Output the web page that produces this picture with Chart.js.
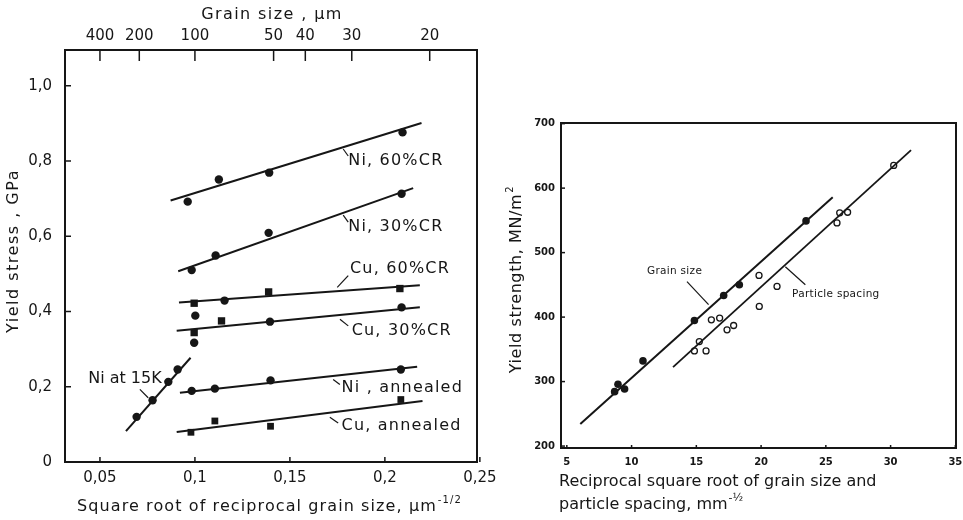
<!DOCTYPE html>
<html>
<head>
<meta charset="utf-8">
<script src="https://cdn.jsdelivr.net/npm/chart.js@4.4.0/dist/chart.umd.min.js"></script>
<style>
  body { margin: 0; background: #fff; width: 963px; height: 520px; overflow: hidden; position: relative; }
  .box { position: absolute; top: 0; }
  #leftBox { left: 0; width: 500px; height: 520px; }
  #rightBox { left: 500px; width: 463px; height: 520px; }
</style>
</head>
<body>
<div class="box" id="leftBox"><canvas id="hallPetchChart" width="500" height="520"></canvas></div>
<div class="box" id="rightBox"><canvas id="spacingChart" width="463" height="520"></canvas></div>
<script>
// ---- left figure: yield stress (GPa) vs d^-1/2 (um^-1/2) ----
const niCr60X = [0.0962, 0.1126, 0.1391, 0.2093];
const niCr60Y = [0.692, 0.751, 0.769, 0.876];
const niCr60Fit = [[0.0872, 0.695], [0.2193, 0.901]];

const niCr30X = [0.0983, 0.1109, 0.1388, 0.2088];
const niCr30Y = [0.510, 0.549, 0.609, 0.713];
const niCr30Fit = [[0.0912, 0.507], [0.2149, 0.728]];

const cuCr60X = [0.0996, 0.1156, 0.1388, 0.2079];
const cuCr60Y = [0.422, 0.429, 0.452, 0.461];
const cuCr60Shape = ['rect', 'circle', 'rect', 'rect'];
const cuCr60Fit = [[0.0916, 0.424], [0.2184, 0.470]];

const cuCr30X = [0.1002, 0.1140, 0.1395, 0.2088, 0.0996, 0.0996];
const cuCr30Y = [0.389, 0.375, 0.373, 0.411, 0.344, 0.317];
const cuCr30Shape = ['circle', 'rect', 'circle', 'circle', 'rect', 'circle'];
const cuCr30Fit = [[0.0904, 0.349], [0.2184, 0.411]];

const ni15KX = [0.0693, 0.0777, 0.0860, 0.0909];
const ni15KY = [0.120, 0.164, 0.213, 0.246];
const ni15KFit = [[0.0637, 0.082], [0.0977, 0.277]];

const niAnnX = [0.0983, 0.1105, 0.1398, 0.2084];
const niAnnY = [0.189, 0.195, 0.217, 0.246];
const niAnnFit = [[0.0921, 0.184], [0.2170, 0.253]];

const cuAnnX = [0.0979, 0.1105, 0.1398, 0.2084];
const cuAnnY = [0.079, 0.109, 0.095, 0.166];
const cuAnnFit = [[0.0904, 0.080], [0.2198, 0.162]];

const leftXTicks = [0.05, 0.1, 0.15, 0.2, 0.25];
const leftXLabels = ['0,05', '0,1', '0,15', '0,2', '0,25'];
const leftYTicks = [0, 0.2, 0.4, 0.6, 0.8, 1.0];
const leftYLabels = ['0', '0,2', '0,4', '0,6', '0,8', '1,0'];
const grainSizeTicks = [400, 200, 100, 50, 40, 30, 20];   // um, top axis

// ---- right figure: yield strength (MN/m2) vs reciprocal sqrt (mm^-1/2) ----
const grainX = [8.69, 8.95, 9.46, 10.88, 14.85, 17.11, 18.32, 23.47];
const grainY = [284.4, 295.9, 288.6, 332.1, 394.8, 433.6, 450.2, 549.2];
const grainFit = [[6.04, 234.2], [25.53, 585.9]];

const spacingX = [14.85, 15.23, 15.75, 16.16, 16.80, 17.37, 17.88, 19.86, 19.84, 21.23, 25.86, 26.07, 26.68, 30.24];
const spacingY = [347.6, 362.0, 347.6, 395.8, 398.5, 380.3, 387.0, 416.5, 464.7, 447.6, 546.1, 561.7, 562.6, 635.2];
const spacingFit = [[13.2, 322.3], [31.58, 659.0]];

const rightXTicks = [5, 10, 15, 20, 25, 30, 35];
const rightYTicks = [200, 300, 400, 500, 600, 700];

const ink = '#161616';

function pts(xs, ys) {
    return xs.map((x, i) => ({ x: x, y: ys[i] }));
}
function fitLine(ends) {
    return ends.map(p => ({ x: p[0], y: p[1] }));
}
function lineSet(ends, width) {
    return { data: fitLine(ends), showLine: true, borderColor: ink, borderWidth: width, pointRadius: 0 };
}
function dotSet(xs, ys, style, radius) {
    return {
        data: pts(xs, ys), showLine: false, pointStyle: style, pointRadius: radius,
        backgroundColor: ink, borderColor: ink, borderWidth: 0
    };
}
// squares need a bigger radius than circles to look the same size
function sizeFor(shapes) {
    return shapes.map(s => (s === 'rect' ? 5.2 : 4.2));
}

// keep chart.js from adding edge padding for the outer tick labels
function noEdgePad(s) {
    s.paddingLeft = 0; s.paddingRight = 0; s.paddingTop = 0; s.paddingBottom = 0;
}

// draws frame, inward tick marks, curve labels and axis titles
const figureText = {
    id: 'figureText',
    afterDraw(chart, args, opts) {
        const ctx = chart.ctx;
        const area = chart.chartArea;
        ctx.save();
        ctx.strokeStyle = ink;
        ctx.fillStyle = ink;
        ctx.lineWidth = opts.frameWidth;
        ctx.strokeRect(area.left, area.top, area.right - area.left, area.bottom - area.top);

        opts.tickMarks.forEach(tm => {
            const s = chart.scales[tm.axis];
            ctx.lineWidth = 1.5;
            s.ticks.forEach(t => {
                const p = s.getPixelForValue(t.value);
                ctx.beginPath();
                if (s.isHorizontal()) {
                    const y0 = s.position === 'top' ? area.top : area.bottom;
                    const dir = s.position === 'top' ? 1 : -1;
                    ctx.moveTo(p, y0);
                    ctx.lineTo(p, y0 + dir * tm.len);
                } else {
                    ctx.moveTo(area.left, p);
                    ctx.lineTo(area.left + tm.len, p);
                }
                ctx.stroke();
            });
        });

        const xs = chart.scales.x, ys = chart.scales.y;
        ctx.textBaseline = 'middle';
        ctx.textAlign = 'left';
        opts.labels.forEach(l => {
            const px = xs.getPixelForValue(l.x), py = ys.getPixelForValue(l.y);
            ctx.font = opts.labelFont;
            ctx.letterSpacing = l.spacing || opts.labelSpacing;
            ctx.fillText(l.text, px, py);
            if (l.leader) {
                ctx.lineWidth = 1.2;
                ctx.beginPath();
                ctx.moveTo(px + l.leader[0], py + l.leader[1]);
                ctx.lineTo(px + l.leader[2], py + l.leader[3]);
                ctx.stroke();
            }
        });

        opts.titles.forEach(t => {
            ctx.save();
            ctx.translate(t.x, t.y);
            if (t.rotate) ctx.rotate(-Math.PI / 2);
            ctx.font = t.font;
            ctx.letterSpacing = t.spacing || '0px';
            const w = ctx.measureText(t.text).width;
            let supW = 0;
            if (t.sup) {
                ctx.font = t.supFont;
                supW = ctx.measureText(t.sup).width;
                ctx.font = t.font;
            }
            const start = t.align === 'left' ? 0 : -(w + supW) / 2;
            ctx.textAlign = 'left';
            ctx.textBaseline = 'middle';
            ctx.fillText(t.text, start, 0);
            if (t.sup) {
                ctx.font = t.supFont;
                ctx.fillText(t.sup, start + w + 1, -7);
            }
            ctx.restore();
        });
        ctx.restore();
    }
};

const leftFont = { family: 'DejaVu Sans', size: 15 };

new Chart(document.getElementById('hallPetchChart'), {
    type: 'scatter',
    data: {
        datasets: [
            lineSet(niCr60Fit, 2), dotSet(niCr60X, niCr60Y, 'circle', 4.2),
            lineSet(niCr30Fit, 2), dotSet(niCr30X, niCr30Y, 'circle', 4.2),
            lineSet(cuCr60Fit, 2), dotSet(cuCr60X, cuCr60Y, cuCr60Shape, sizeFor(cuCr60Shape)),
            lineSet(cuCr30Fit, 2), dotSet(cuCr30X, cuCr30Y, cuCr30Shape, sizeFor(cuCr30Shape)),
            lineSet(ni15KFit, 2), dotSet(ni15KX, ni15KY, 'circle', 4.2),
            lineSet(niAnnFit, 2), dotSet(niAnnX, niAnnY, 'circle', 4.2),
            lineSet(cuAnnFit, 2), dotSet(cuAnnX, cuAnnY, 'rect', 4.8)
        ]
    },
    options: {
        responsive: false,
        animation: false,
        layout: { padding: { left: 0, right: 23, top: 0, bottom: 0 } },
        plugins: {
            legend: { display: false },
            tooltip: { enabled: false },
            figureText: {
                frameWidth: 2,
                tickMarks: [{ axis: 'x', len: 5 }, { axis: 'y', len: 6 }, { axis: 'x2', len: 11 }],
                labelFont: '16px "DejaVu Sans"',
                labelSpacing: '1.2px',
                labels: [
                    { text: 'Ni, 60%CR', x: 0.1807, y: 0.800, leader: [-5, -12, 0, -5] },
                    { text: 'Ni, 30%CR', x: 0.1807, y: 0.624, leader: [-5, -12, 0, -5] },
                    { text: 'Cu, 60%CR', x: 0.1816, y: 0.513, leader: [-12.7, 18.4, -1.7, 6.7] },
                    { text: 'Cu, 30%CR', x: 0.1825, y: 0.3485, leader: [-11.7, -11.7, -3.4, -5] },
                    { text: 'Ni , annealed', x: 0.1772, y: 0.197, leader: [-8.4, -8.4, -1.7, -3.4] },
                    { text: 'Cu, annealed', x: 0.1772, y: 0.095, leader: [-11.7, -9, -3.4, -3.3] },
                    { text: 'Ni at 15K', x: 0.0438, y: 0.2197, spacing: '0px', leader: [51.7, 10, 60, 18.4] }
                ],
                titles: [
                    { text: 'Grain size , μm', x: 272, y: 15, font: '16px "DejaVu Sans"', spacing: '1.4px' },
                    { text: 'Yield stress , GPa', x: 14, y: 251, rotate: true, font: '16px "DejaVu Sans"', spacing: '1.5px' },
                    { text: 'Square root of reciprocal grain size, μm', sup: '-1/2', x: 77, y: 507, align: 'left',
                      font: '16px "DejaVu Sans"', supFont: '10px "DejaVu Sans"', spacing: '1.1px' }
                ]
            }
        },
        scales: {
            x: {
                type: 'linear', position: 'bottom', min: 0.0316, max: 0.2485,
                grid: { display: false, drawTicks: false }, border: { display: false },
                afterBuildTicks: s => { s.ticks = leftXTicks.map(v => ({ value: v })); },
                afterFit: s => { s.height = 58; noEdgePad(s); },
                ticks: { autoSkip: false, maxRotation: 0, padding: 7, color: ink, font: leftFont,
                         callback: (v, i) => leftXLabels[i] }
            },
            x2: {
                type: 'linear', position: 'top', min: 0.0316, max: 0.2485,
                grid: { display: false, drawTicks: false }, border: { display: false },
                afterBuildTicks: s => { s.ticks = grainSizeTicks.map(d => ({ value: 1 / Math.sqrt(d) })); },
                afterFit: s => { s.height = 50; noEdgePad(s); },
                ticks: { autoSkip: false, maxRotation: 0, padding: 5, color: ink, font: leftFont,
                         callback: (v, i) => String(grainSizeTicks[i]) }
            },
            y: {
                type: 'linear', min: 0, max: 1.095,
                grid: { display: false, drawTicks: false }, border: { display: false },
                afterBuildTicks: s => { s.ticks = leftYTicks.map(v => ({ value: v })); },
                afterFit: s => { s.width = 65; noEdgePad(s); },
                ticks: { autoSkip: false, padding: 13, color: ink, font: leftFont,
                         callback: (v, i) => leftYLabels[i] }
            }
        }
    },
    plugins: [figureText]
});

const rightTickFont = { family: 'DejaVu Sans', size: 10, weight: 'bold' };

new Chart(document.getElementById('spacingChart'), {
    type: 'scatter',
    data: {
        datasets: [
            lineSet(grainFit, 2),
            lineSet(spacingFit, 1.8),
            dotSet(grainX, grainY, 'circle', 3.8),
            {
                data: pts(spacingX, spacingY), showLine: false, pointStyle: 'circle', pointRadius: 3,
                backgroundColor: '#fff', borderColor: ink, borderWidth: 1.3
            }
        ]
    },
    options: {
        responsive: false,
        animation: false,
        layout: { padding: { left: 0, right: 7, top: 123, bottom: 0 } },
        plugins: {
            legend: { display: false },
            tooltip: { enabled: false },
            figureText: {
                frameWidth: 2,
                tickMarks: [{ axis: 'x', len: 3 }, { axis: 'y', len: 4 }],
                labelFont: '10.5px "DejaVu Sans"',
                labelSpacing: '0.3px',
                labels: [
                    { text: 'Grain size', x: 11.19, y: 470.9, leader: [40, 10.3, 61.6, 33.3] },
                    { text: 'Particle spacing', x: 22.39, y: 434.7, leader: [-6.7, -28, 13.3, -10] }
                ],
                titles: [
                    { text: 'Yield strength, MN/m', sup: '2', x: 17, y: 280, rotate: true,
                      font: '16px "DejaVu Sans"', supFont: '10px "DejaVu Sans"', spacing: '0.6px' },
                    { text: 'Reciprocal square root of grain size and', x: 59, y: 482, align: 'left',
                      font: '16px "DejaVu Sans"' },
                    { text: 'particle spacing, mm', sup: '-½', x: 59, y: 505, align: 'left',
                      font: '16px "DejaVu Sans"', supFont: '11px "DejaVu Sans"' }
                ]
            }
        },
        scales: {
            x: {
                type: 'linear', min: 4.55, max: 35.05,
                grid: { display: false, drawTicks: false }, border: { display: false },
                afterBuildTicks: s => { s.ticks = rightXTicks.map(v => ({ value: v })); },
                afterFit: s => { s.height = 72; noEdgePad(s); },
                ticks: { autoSkip: false, maxRotation: 0, padding: 8, color: ink, font: rightTickFont }
            },
            y: {
                type: 'linear', min: 197, max: 701,
                grid: { display: false, drawTicks: false }, border: { display: false },
                afterBuildTicks: s => { s.ticks = rightYTicks.map(v => ({ value: v })); },
                afterFit: s => { s.width = 61; noEdgePad(s); },
                ticks: { autoSkip: false, padding: 6, color: ink, font: rightTickFont }
            }
        }
    },
    plugins: [figureText]
});
</script>
</body>
</html>
